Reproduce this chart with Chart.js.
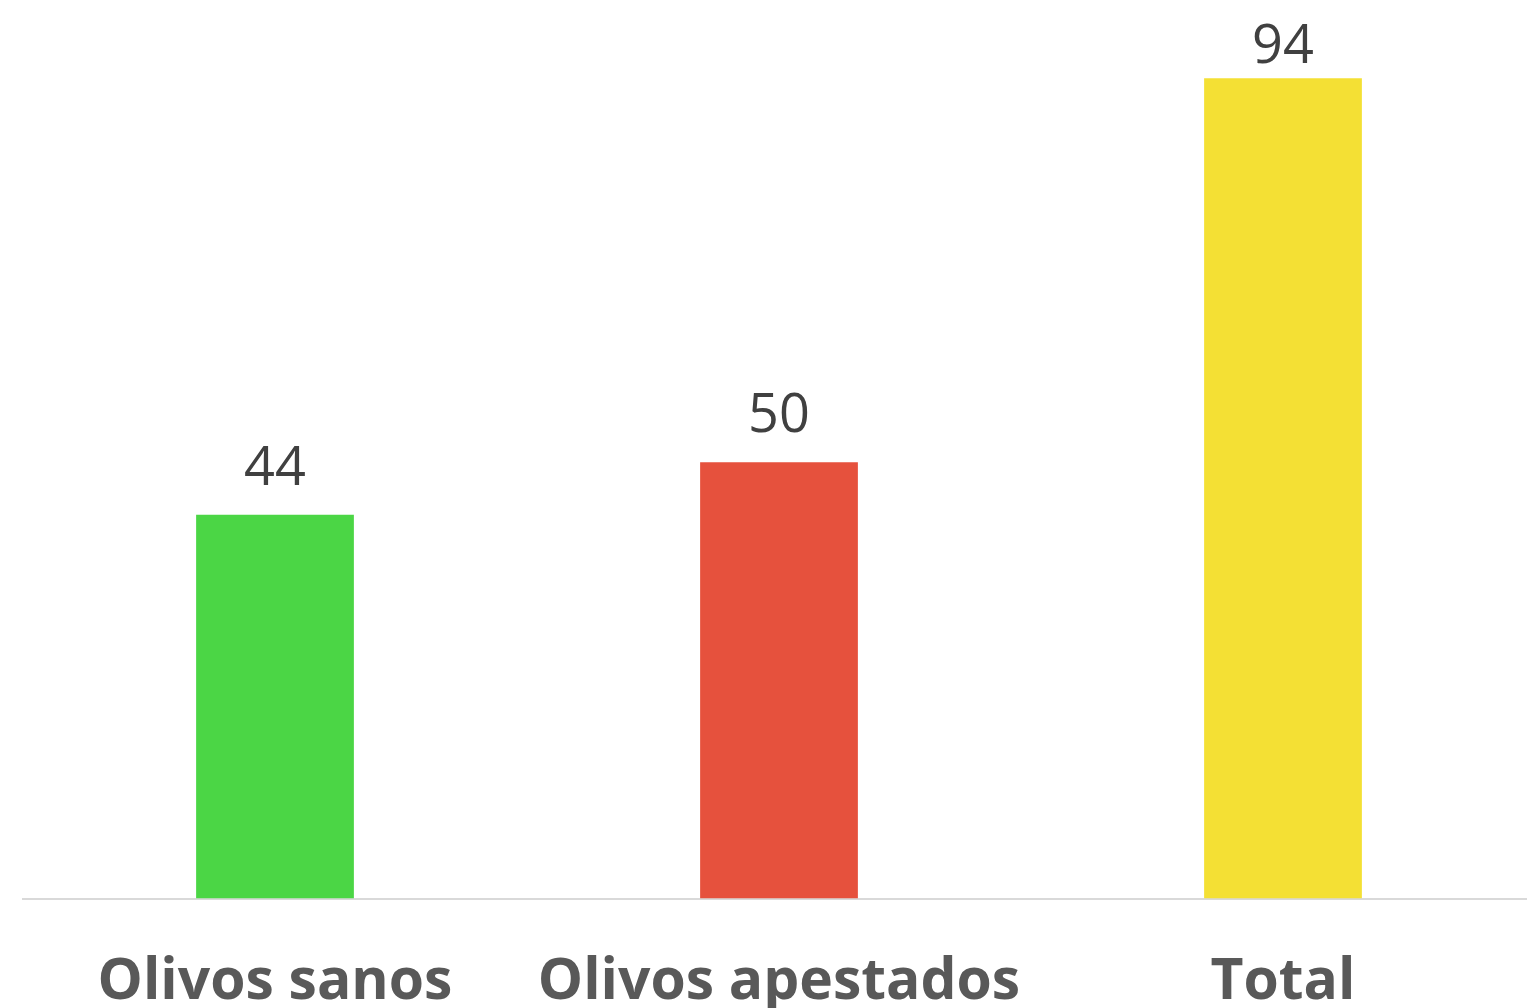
<!DOCTYPE html>
<html>
<head>
<meta charset="utf-8">
<script src="https://cdn.jsdelivr.net/npm/chart.js@4"></script>
<style>
  html, body { margin: 0; padding: 0; background: #fff; overflow: hidden; }
  #wrap { width: 1535px; height: 1097px; position: relative; }
</style>
</head>
<body>
<div id="wrap"><canvas id="myChart"></canvas></div>
<script>
const categories = ['Olivos sanos', 'Olivos apestados', 'Total'];
const values = [44, 50, 94];
const barColors = ['#4BD645', '#E6513D', '#F4E034'];

// etiquetas de valor encima de cada barra
const valueLabels = {
  id: 'valueLabels',
  afterDatasetsDraw(chart) {
    const ctx = chart.ctx;
    const meta = chart.getDatasetMeta(0);
    ctx.save();
    ctx.font = '54px "Open Sans"';
    ctx.fillStyle = '#404040';
    ctx.textAlign = 'center';
    ctx.textBaseline = 'alphabetic';
    meta.data.forEach((bar, i) => {
      const y = Math.max(bar.y - 30, 63);
      ctx.fillText(String(values[i]), bar.x, y);
    });
    ctx.restore();
  }
};

let myChart = new Chart(
  document.getElementById('myChart'),
  {
    type: 'bar',
    data: {
      labels: categories,
      datasets: [{
        data: values,
        backgroundColor: barColors,
        barPercentage: 0.313,
        categoryPercentage: 1
      }]
    },
    options: {
      responsive: true,
      maintainAspectRatio: false,
      animation: false,
      layout: { padding: { left: 23, right: 0, top: 26, bottom: 30 } },
      plugins: { legend: false, tooltip: { enabled: false } },
      scales: {
        x: {
          grid: { display: false, drawTicks: false },
          border: { color: '#D9D9D9', width: 2 },
          ticks: {
            color: '#595959',
            padding: 50,
            font: { family: '"Open Sans"', size: 57, weight: 'bold' }
          }
        },
        y: {
          display: false,
          min: 0,
          max: 100
        }
      }
    },
    plugins: [valueLabels]
  }
);
</script>
</body>
</html>
